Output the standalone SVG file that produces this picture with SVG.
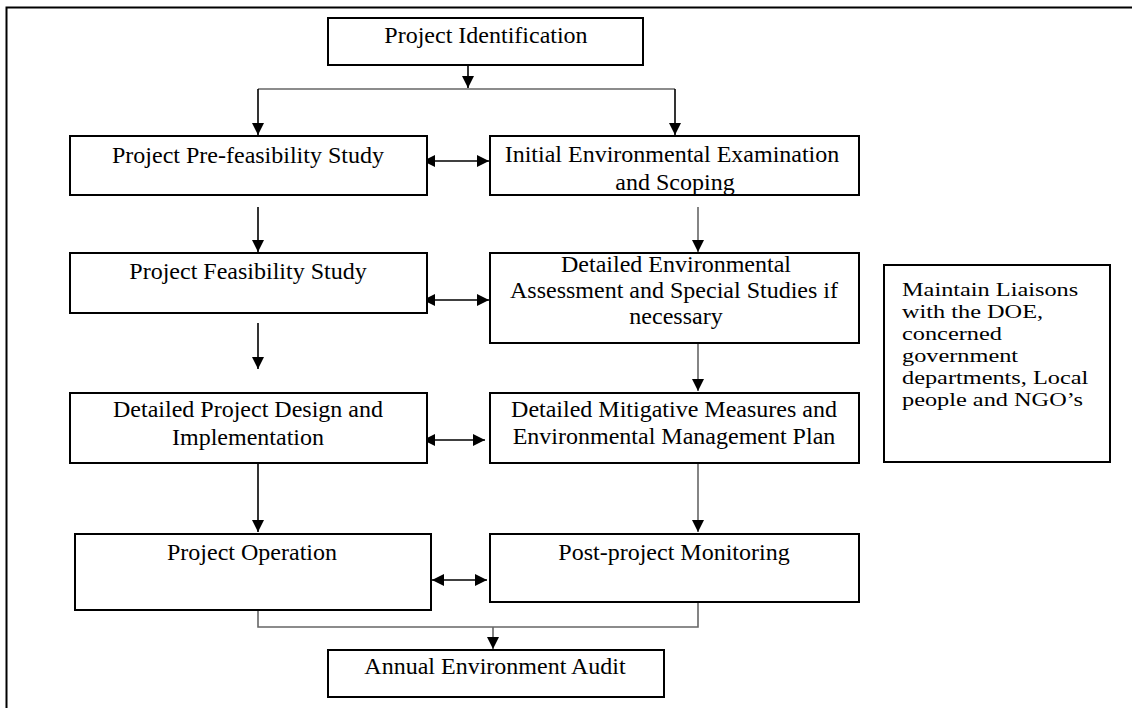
<svg xmlns="http://www.w3.org/2000/svg" width="1132" height="708" viewBox="0 0 1132 708">
  <style>
    .box { fill: #ffffff; stroke: #000000; stroke-width: 2; }
    .lbl { font-family: "Liberation Serif", "Times New Roman", serif; font-size: 24px; fill: #000000; text-anchor: middle; }
    .lft { font-family: "Liberation Serif", "Times New Roman", serif; font-size: 19px; fill: #000000; }
    .ln { fill: none; stroke: #000000; stroke-width: 1.6; }
    .gl { fill: none; stroke: #666666; stroke-width: 1.6; }
    .ar { fill: none; stroke: #000000; stroke-width: 1.6; marker-end: url(#ah); }
    .ga { fill: none; stroke: #666666; stroke-width: 1.6; marker-end: url(#ah); }
    .da { fill: none; stroke: #000000; stroke-width: 1.6; marker-start: url(#ah); marker-end: url(#ah); }
  </style>
  <defs>
    <marker id="ah" markerUnits="userSpaceOnUse" markerWidth="12" markerHeight="12" viewBox="0 0 12 12" refX="12" refY="6" orient="auto-start-reverse">
      <path d="M0,0 L12,6 L0,12 z" fill="#000000"/>
    </marker>
  </defs>
  <rect x="0" y="0" width="1132" height="708" fill="#ffffff"/>
  <path d="M6.5,708 L6.5,7.5 L1132,7.5" fill="none" stroke="#000000" stroke-width="2"/>

  <g id="connectors">
    <path class="ar" d="M468,65 L468,88"/>
    <path class="gl" d="M258,89 L675,89"/>
    <path class="ar" d="M258,89 L258,135"/>
    <path class="ar" d="M675,89 L675,135"/>
    <path class="da" d="M423,161 L489,161"/>
    <path class="ar" d="M258,207 L258,252"/>
    <path class="ga" d="M698,207 L698,252"/>
    <path class="da" d="M423,300 L489,300"/>
    <path class="ar" d="M258,323 L258,369"/>
    <path class="ga" d="M698,343 L698,391"/>
    <path class="da" d="M423,440 L485,440"/>
    <path class="ar" d="M258,463 L258,532"/>
    <path class="ga" d="M698,463 L698,532"/>
    <path class="da" d="M432,580 L487,580"/>
    <path class="gl" d="M258,603 L258,627 L698,627 L698,602"/>
    <path class="ga" d="M493,627 L493,649"/>
  </g>

  <g id="n-identification">
    <rect class="box" x="328" y="18" width="315" height="47"/>
    <text class="lbl" x="486" y="43">Project Identification</text>
  </g>
  <g id="n-prefeasibility">
    <rect class="box" x="70" y="136" width="357" height="59"/>
    <text class="lbl" x="248" y="163">Project Pre-feasibility Study</text>
  </g>
  <g id="n-iee">
    <rect class="box" x="490" y="136" width="369" height="59"/>
    <text class="lbl" x="672" y="162">Initial Environmental Examination</text>
    <text class="lbl" x="675" y="190">and Scoping</text>
  </g>
  <g id="n-feasibility">
    <rect class="box" x="70" y="253" width="357" height="60"/>
    <text class="lbl" x="248" y="279">Project Feasibility Study</text>
  </g>
  <g id="n-dea">
    <rect class="box" x="490" y="253" width="369" height="90"/>
    <text class="lbl" x="676" y="272">Detailed Environmental</text>
    <text class="lbl" x="674" y="298">Assessment and Special Studies if</text>
    <text class="lbl" x="676" y="324">necessary</text>
  </g>
  <g id="n-design">
    <rect class="box" x="70" y="393" width="357" height="70"/>
    <text class="lbl" x="248" y="417">Detailed Project Design and</text>
    <text class="lbl" x="248" y="445">Implementation</text>
  </g>
  <g id="n-mitigation">
    <rect class="box" x="490" y="393" width="369" height="70"/>
    <text class="lbl" x="674" y="417">Detailed Mitigative Measures and</text>
    <text class="lbl" x="674" y="444">Environmental Management Plan</text>
  </g>
  <g id="n-liaisons">
    <rect class="box" x="884" y="265" width="226" height="197"/>
    <g transform="translate(902,0) scale(1.28,1)">
      <text class="lft" x="0" y="296">Maintain Liaisons</text>
      <text class="lft" x="0" y="318">with the DOE,</text>
      <text class="lft" x="0" y="340">concerned</text>
      <text class="lft" x="0" y="362">government</text>
      <text class="lft" x="0" y="384">departments, Local</text>
      <text class="lft" x="0" y="406">people and NGO’s</text>
    </g>
  </g>
  <g id="n-operation">
    <rect class="box" x="75" y="534" width="356" height="76"/>
    <text class="lbl" x="252" y="560">Project Operation</text>
  </g>
  <g id="n-monitoring">
    <rect class="box" x="490" y="534" width="369" height="68"/>
    <text class="lbl" x="674" y="560">Post-project Monitoring</text>
  </g>
  <g id="n-audit">
    <rect class="box" x="328" y="650" width="336" height="47"/>
    <text class="lbl" x="495" y="674">Annual Environment Audit</text>
  </g>
</svg>
